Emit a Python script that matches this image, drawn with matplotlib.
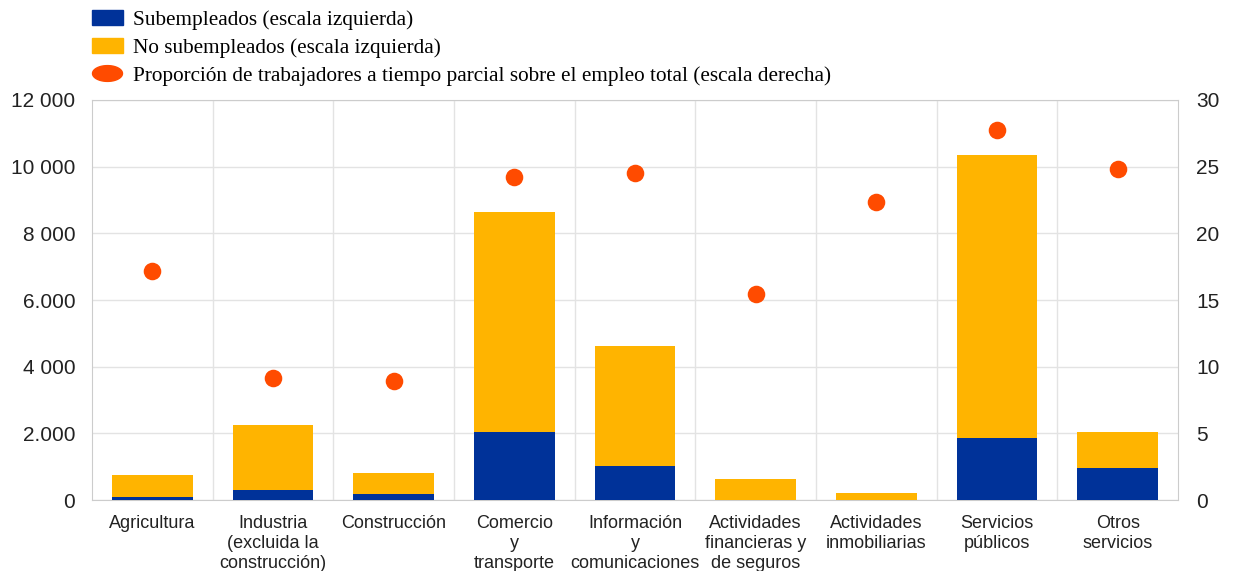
import matplotlib.pyplot as plt
import numpy as np
from matplotlib.lines import Line2D
from matplotlib.patches import Patch
from matplotlib.path import Path

sectors = ["Agricultura", "Industria\n(excluida la\nconstrucción)", "Construcción",
           "Comercio\ny\ntransporte", "Información\ny\ncomunicaciones",
           "Actividades\nfinancieras y\nde seguros", "Actividades\ninmobiliarias",
           "Servicios\npúblicos", "Otros\nservicios"]

subempleados = [100, 300, 180, 2040, 1020, 0, 0, 1870, 970]
totales = [750, 2250, 800, 8640, 4620, 640, 200, 10350, 2030]
no_subempleados = [t - s for t, s in zip(totales, subempleados)]
proporcion = [17.2, 9.15, 8.9, 24.2, 24.5, 15.45, 22.35, 27.75, 24.8]

left_ticks = [0, 2000, 4000, 6000, 8000, 10000, 12000]
left_labels = ["0", "2.000", "4 000", "6.000", "8 000", "10 000", "12 000"]
right_ticks = [0, 5, 10, 15, 20, 25, 30]

blue = "#003299"
yellow = "#FFB400"
red = "#FF4B00"
grid_c = "#e3e3e3"

plt.rcParams["font.family"] = ["Liberation Sans", "DejaVu Sans"]

fig = plt.figure(figsize=(12.33, 5.71), dpi=100)
ax = fig.add_axes([0.0746, 0.1243, 0.8808, 0.7006])
x = np.arange(len(sectors))

ax.bar(x, subempleados, width=0.67, color=blue, zorder=3)
ax.bar(x, no_subempleados, width=0.67, bottom=subempleados, color=yellow, zorder=3)
ax.set_xlim(-0.5, len(sectors) - 0.5)
ax.set_ylim(0, 12000)
ax.set_yticks(left_ticks)
ax.set_yticklabels(left_labels)
ax.set_xticks(x)
ax.set_xticklabels(sectors, linespacing=1.22)
ax.set_xticks(np.arange(0.5, len(sectors) - 1, 1), minor=True)
ax.grid(axis="y", color=grid_c, lw=1, zorder=0)
ax.grid(axis="x", which="minor", color=grid_c, lw=1, zorder=0)
ax.tick_params(axis="x", which="both", length=0, labelsize=13, pad=11, colors="#222222")
ax.tick_params(axis="y", length=0, labelsize=15, pad=12, colors="#222222")
for s in ax.spines.values():
    s.set_color("#cccccc")

ax2 = ax.twinx()
ax2.scatter(x, proporcion, s=160, color=red, zorder=5, linewidths=0)
ax2.set_ylim(0, 30)
ax2.set_yticks(right_ticks)
ax2.tick_params(axis="y", length=0, labelsize=15, pad=13, colors="#222222")
for s in ax2.spines.values():
    s.set_visible(False)

theta = np.linspace(0, 2 * np.pi, 60)
ellipse = Path(np.column_stack([1.9 * np.cos(theta), np.sin(theta)]), closed=True)
handles = [
    Patch(color=blue, label="Subempleados (escala izquierda)"),
    Patch(color=yellow, label="No subempleados (escala izquierda)"),
    Line2D([], [], ls="none", marker=ellipse, markersize=21.6, color=red,
           label="Proporción de trabajadores a tiempo parcial sobre el empleo total (escala derecha)"),
]
fig.legend(handles=handles, loc="upper left", bbox_to_anchor=(0.0746, 0.983), frameon=False,
           prop={"family": "Liberation Serif", "size": 15.3}, handlelength=1.46,
           handleheight=0.75, handletextpad=0.47, labelspacing=0.37, borderpad=0,
           borderaxespad=0)

fig.savefig("out.png", dpi=100)
